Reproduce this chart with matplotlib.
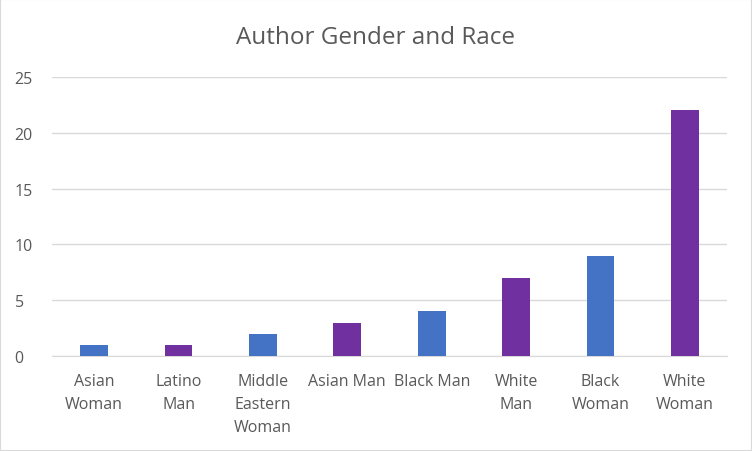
import matplotlib
matplotlib.use("Agg")
import matplotlib.pyplot as plt
from matplotlib.patches import Rectangle

categories = ["Asian\nWoman", "Latino\nMan", "Middle\nEastern\nWoman", "Asian Man",
              "Black Man", "White\nMan", "Black\nWoman", "White\nWoman"]
values = [1, 1, 2, 3, 4, 7, 9, 22]
colors = ["#4472C4", "#7030A0", "#4472C4", "#7030A0", "#4472C4", "#7030A0", "#4472C4", "#7030A0"]
yticks = [0, 5, 10, 15, 20, 25]

plt.rcParams['font.family'] = ['Open Sans', 'DejaVu Sans']

fig = plt.figure(figsize=(7.52, 4.52), dpi=100)
ax = fig.add_axes([52/752, 1 - 357/452, (727 - 52)/752, (357 - 78)/452])

x = list(range(len(categories)))
ax.bar(x, values, width=0.33, color=colors, zorder=3)
ax.set_xlim(-0.5, len(categories) - 0.5)
ax.set_ylim(0, 25)
ax.set_yticks(yticks)
ax.set_xticks(x)
ax.set_xticklabels(categories, fontsize=11.5, color="#595959", linespacing=1.57)
ax.tick_params(axis='y', labelsize=11.5, labelcolor="#595959", length=0, pad=27)
ax.tick_params(axis='x', length=0, pad=12.5)
for t in ax.get_yticklabels():
    t.set_horizontalalignment('left')
ax.grid(axis='y', color="#D9D9D9", linewidth=1, zorder=0)
for s in ["top", "right", "left"]:
    ax.spines[s].set_visible(False)
ax.spines["bottom"].set_color("#D9D9D9")

fig.text(0.5, 1 - 38/452, "Author Gender and Race", ha="center", va="center",
         fontsize=17.5, color="#595959")

fig.patches.append(Rectangle((0, 0), 1, 1, transform=fig.transFigure, fill=False,
                             edgecolor="#D9D9D9", linewidth=1.5))

fig.savefig("out.png", dpi=100)
